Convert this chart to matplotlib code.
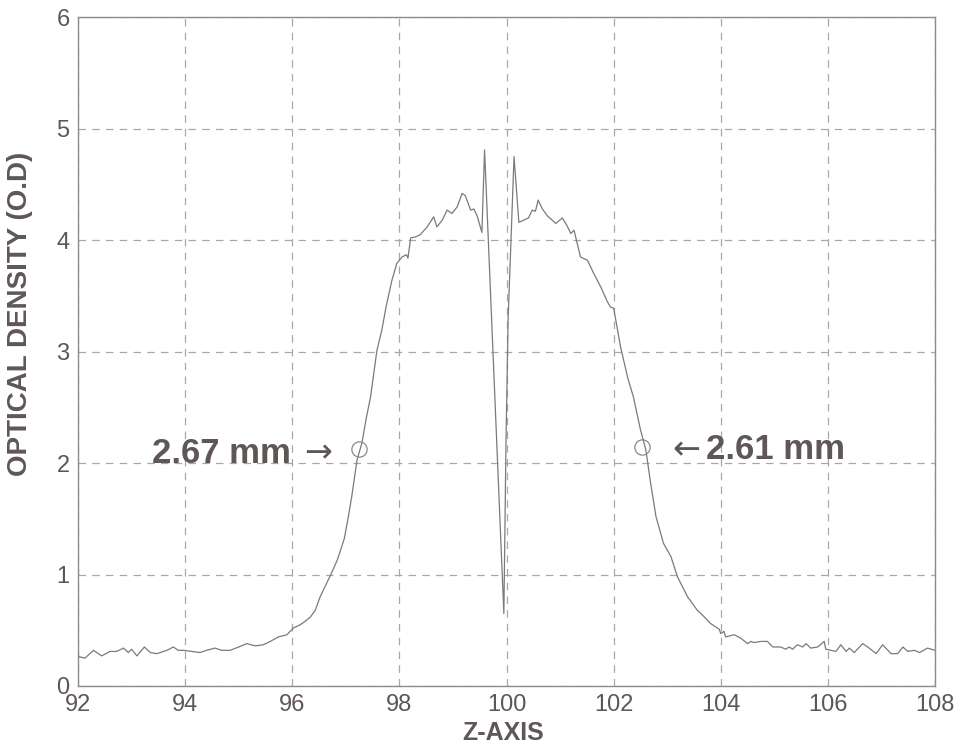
import matplotlib
matplotlib.use('Agg')
import matplotlib.pyplot as plt
import numpy as np

plt.rcParams['font.family'] = ['Liberation Sans', 'DejaVu Sans']

# z position (mm) and optical density read from the scanned profile
z_left = [92.0, 92.04, 92.13, 92.29, 92.44, 92.6, 92.72, 92.85, 92.94, 93.0,
          93.1, 93.24, 93.35, 93.47, 93.66, 93.78, 93.87, 93.97, 94.12, 94.28,
          94.4, 94.56, 94.68, 94.84, 95.0, 95.15, 95.31, 95.46, 95.59, 95.74,
          95.9, 95.96, 96.02, 96.15, 96.24, 96.34, 96.43, 96.52, 96.6, 96.71,
          96.84, 96.97, 97.04, 97.11, 97.21, 97.3, 97.38, 97.46, 97.58, 97.67,
          97.75, 97.86, 97.95, 98.05, 98.13, 98.16, 98.21, 98.3, 98.39, 98.52,
          98.64, 98.7, 98.8, 98.89, 98.98, 99.08, 99.17, 99.23, 99.33, 99.39,
          99.45, 99.54, 99.59]
od_left = [0.27, 0.26, 0.25, 0.32, 0.27, 0.31, 0.31, 0.34, 0.30, 0.33,
           0.27, 0.35, 0.30, 0.29, 0.32, 0.35, 0.32, 0.32, 0.31, 0.30,
           0.32, 0.34, 0.32, 0.32, 0.35, 0.38, 0.36, 0.37, 0.40, 0.44,
           0.46, 0.49, 0.52, 0.55, 0.58, 0.62, 0.68, 0.80, 0.88, 0.99,
           1.13, 1.32, 1.50, 1.70, 2.03, 2.18, 2.40, 2.59, 3.01, 3.19,
           3.40, 3.64, 3.79, 3.85, 3.87, 3.84, 4.02, 4.03, 4.05, 4.12,
           4.21, 4.12, 4.18, 4.27, 4.24, 4.30, 4.42, 4.40, 4.27, 4.28,
           4.22, 4.07, 4.81]

# central dip
z_mid = [99.95, 99.99, 100.03]
od_mid = [0.65, 2.2, 3.3]

z_right = [100.14, 100.23, 100.32, 100.41, 100.48, 100.54, 100.59, 100.67, 100.76, 100.92,
           101.04, 101.13, 101.2, 101.26, 101.38, 101.51, 101.63, 101.76, 101.88, 101.94,
           102.0, 102.13, 102.26, 102.37, 102.5, 102.6, 102.69, 102.79, 102.93, 103.07,
           103.19, 103.38, 103.56, 103.63, 103.81, 103.97, 104.0, 104.06, 104.09, 104.25,
           104.37, 104.5, 104.56, 104.62, 104.75, 104.87, 104.97, 105.12, 105.21, 105.28,
           105.34, 105.43, 105.53, 105.59, 105.68, 105.81, 105.93, 105.96, 106.06, 106.15,
           106.24, 106.34, 106.4, 106.49, 106.65, 106.77, 106.9, 107.02, 107.18, 107.3,
           107.4, 107.49, 107.61, 107.71, 107.86, 108.0]
od_right = [4.75, 4.16, 4.18, 4.20, 4.27, 4.26, 4.36, 4.28, 4.22, 4.15,
            4.20, 4.13, 4.06, 4.09, 3.85, 3.82, 3.70, 3.58, 3.45, 3.40,
            3.39, 3.04, 2.77, 2.59, 2.30, 2.12, 1.82, 1.52, 1.28, 1.16,
            0.98, 0.80, 0.68, 0.65, 0.56, 0.51, 0.47, 0.49, 0.44, 0.46,
            0.43, 0.38, 0.40, 0.39, 0.40, 0.40, 0.35, 0.35, 0.33, 0.35,
            0.33, 0.37, 0.35, 0.38, 0.34, 0.35, 0.40, 0.33, 0.32, 0.31,
            0.37, 0.31, 0.34, 0.30, 0.38, 0.34, 0.29, 0.37, 0.29, 0.29,
            0.35, 0.31, 0.32, 0.30, 0.34, 0.32]

# half-maximum markers and their labels
mark_z = [97.25, 102.53]
mark_od = [2.13, 2.14]
labels = ['2.67 mm', '2.61 mm']

x_ticks = [92, 94, 96, 98, 100, 102, 104, 106, 108]
y_ticks = [0, 1, 2, 3, 4, 5, 6]

text_col = '#5f5656'
line_col = '#7a7a7a'
grid_col = '#a8a8a8'

z = np.array(z_left + z_mid + z_right)
od = np.array(od_left + od_mid + od_right)

fig = plt.figure(figsize=(9.63, 7.53), dpi=100)
ax = fig.add_axes([0.081, 0.089, 0.890, 0.888])

ax.plot(z, od, color=line_col, linewidth=0.9)
ax.plot(mark_z, mark_od, linestyle='none', marker='o', markersize=11,
        markerfacecolor='none', markeredgecolor='#8a8a8a', markeredgewidth=0.9)

# labels with arrows (arrow glyphs from DejaVu, they are bigger)
ax.text(95.98, mark_od[0] - 0.04, labels[0], ha='right', va='center', fontsize=25,
        fontweight='bold', color=text_col)
ax.text(96.48, mark_od[0] - 0.04, '\u2192', ha='center', va='center', fontsize=24,
        family='DejaVu Sans', color=text_col)
ax.text(103.35, mark_od[1] - 0.02, '\u2190', ha='center', va='center', fontsize=24,
        family='DejaVu Sans', color=text_col)
ax.text(103.72, mark_od[1] - 0.02, labels[1], ha='left', va='center', fontsize=25,
        fontweight='bold', color=text_col)

ax.set_xlim(92, 108)
ax.set_ylim(0, 6)
ax.set_xticks(x_ticks)
ax.set_yticks(y_ticks)
ax.grid(True, linestyle=(0, (6, 5)), color=grid_col, linewidth=0.9)
ax.tick_params(length=0, labelsize=17, colors=text_col, pad=6)
for s in ax.spines.values():
    s.set_color('#8c8c8c')
    s.set_linewidth(1.0)

ax.set_xlabel('Z-AXIS', fontsize=18, fontweight='bold', color=text_col)
ax.set_ylabel('OPTICAL DENSITY (O.D)', fontsize=20, fontweight='bold', color=text_col)
ax.xaxis.set_label_coords(0.496, -0.052)
ax.yaxis.set_label_coords(-0.052, 0.556)

plt.savefig('out.png', dpi=100)
